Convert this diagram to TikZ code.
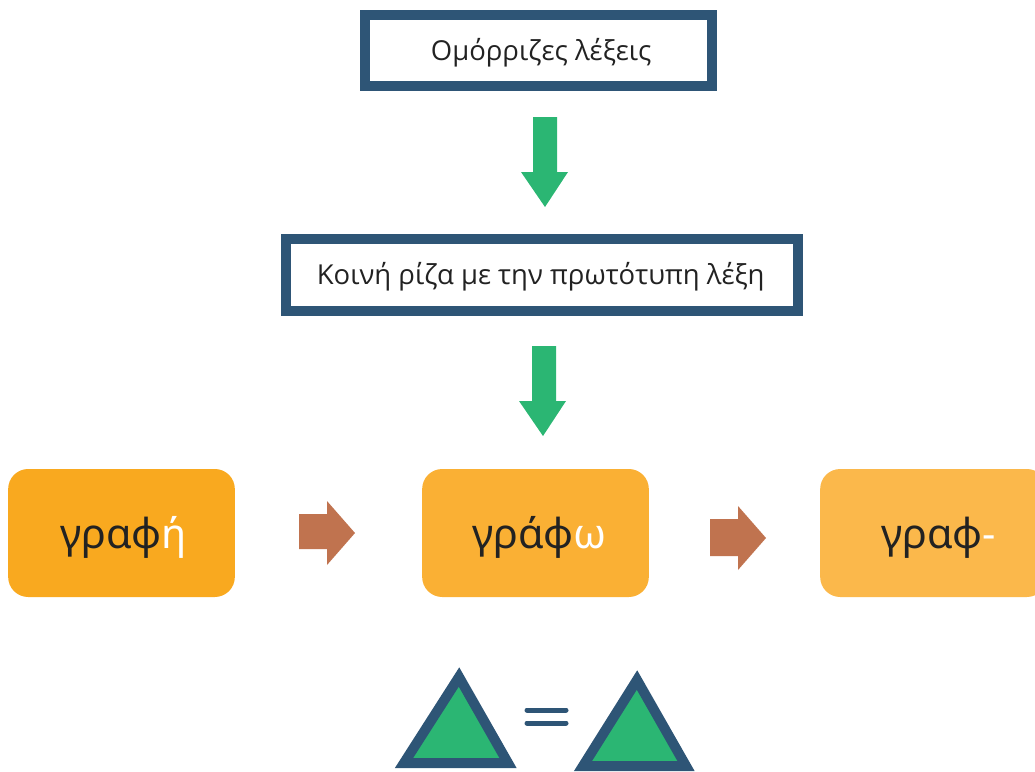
\documentclass[tikz,border=0pt]{standalone}
\usepackage{fontspec}
\setmainfont{Open Sans}
\newfontfamily\wordfont{Noto Sans}
\definecolor{frameblue}{HTML}{2E5576}
\definecolor{rootgreen}{HTML}{2BB673}
\definecolor{orangeA}{HTML}{F9A91F}
\definecolor{orangeB}{HTML}{FAB034}
\definecolor{orangeC}{HTML}{FBB84B}
\definecolor{pushbrown}{HTML}{C0734F}
\definecolor{inktext}{HTML}{222222}
\tikzset{
  framebox/.style={draw=frameblue,line width=7.5pt,fill=white,
    minimum height=53.5pt,inner sep=0pt,text height=14.7pt,text depth=0pt,
    font=\fontsize{20.6}{24}\selectfont,text=inktext},
  wordbox/.style={rounded corners=15pt,minimum width=170pt,minimum height=96pt,
    inner sep=0pt,text height=22.5pt,text depth=0pt,
    font=\wordfont\fontsize{31}{36}\selectfont,text=inktext},
  greenarrow/.style={fill=rootgreen},
  brownarrow/.style={fill=pushbrown},
  eqtriangle/.style={draw=frameblue,fill=rootgreen,line width=7.5pt,line join=miter}
}
\begin{document}
\begin{tikzpicture}[x=0.75pt,y=-0.75pt]
        \useasboundingbox (0,0) rectangle (1035,771);

        % boxes with the title
        \node[framebox,minimum width=260pt] (omorrizes) at (538.5,50.5) {\hspace*{4pt}Ομόρριζες λέξεις};
        \node[framebox,minimum width=384pt] (koinh) at (542,275) {\hspace*{-2pt}Κοινή ρίζα με την πρωτότυπη λέξη};

        % green arrows
        \fill[greenarrow] (533,117) -- (557,117) -- (557,172) -- (568,172) -- (545,207)
            -- (521,172) -- (533,172) -- cycle;%arrow 1
        \fill[greenarrow] (532,346) -- (556,346) -- (556,401) -- (566,401) -- (543,436)
            -- (519,401) -- (532,401) -- cycle;%arrow 2

        % the three words
        \node[wordbox,fill=orangeA] (grafh) at (121.5,533) {\hspace*{3pt}γραφ\textcolor{white}{ή}};
        \node[wordbox,fill=orangeB] (grafw) at (535.5,533) {\hspace*{6pt}γράφ\textcolor{white}{ω}};
        \node[wordbox,fill=orangeC] (graf) at (933.5,533) {\hspace*{8pt}γραφ\textcolor{white}{-}};

        % brown arrows
        \fill[brownarrow] (299,514) -- (327,514) -- (327,501) -- (355,533) -- (327,565)
            -- (327,549) -- (299,549) -- cycle;%arrow a
        \fill[brownarrow] (710,519) -- (738,519) -- (738,506) -- (766,538) -- (738,570)
            -- (738,556) -- (710,556) -- cycle;%arrow b

        % triangles
        \draw[eqtriangle] (459,677) -- (508,763) -- (404,763) -- cycle;
        \draw[eqtriangle] (637,680) -- (686,766) -- (583,766) -- cycle;
        \draw[frameblue,line width=3.75pt,line cap=round] (527,710) -- (566,710);
        \draw[frameblue,line width=3.75pt,line cap=round] (527,723) -- (566,723);

\end{tikzpicture}
\end{document}
